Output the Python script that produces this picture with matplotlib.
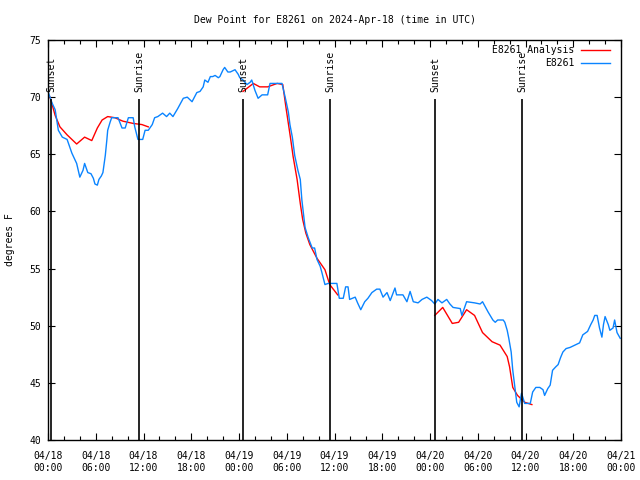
import numpy as np
import pandas as pd
import matplotlib
matplotlib.use("Agg")
import matplotlib.pyplot as plt
import matplotlib.dates as mdates

start = pd.Timestamp("2024-04-18 00:00")

# observed dew point (hours since start, degF)
obs_hours = [0.0, 0.25, 0.5, 0.9, 1.3, 1.8, 2.4, 3.0, 3.6, 4.0, 4.4, 4.6, 5.0, 5.4, 5.7, 5.9,
             6.2, 6.4, 6.7, 6.9, 7.2, 7.4, 7.5, 7.8, 8.0, 8.8, 9.3, 9.7, 10.1, 10.7, 10.9, 11.3,
             11.9, 12.2, 12.6, 13.1, 13.4, 13.8, 14.4, 14.9, 15.3, 15.7, 16.3, 17.0, 17.5, 18.1,
             18.7, 19.1, 19.5, 19.7, 20.1, 20.4, 20.7, 21.0, 21.4, 21.6, 22.0, 22.2, 22.6, 22.9,
             23.5, 23.9, 24.1, 24.5, 25.0, 25.4, 25.6, 26.0, 26.4, 26.9, 27.6, 27.9, 28.6, 29.4,
             29.8, 30.2, 30.4, 30.7, 31.0, 31.4, 31.7, 31.9, 32.3, 32.7, 33.2, 33.5, 33.8, 34.2,
             34.4, 34.8, 35.2, 35.4, 35.9, 36.3, 36.6, 37.1, 37.4, 37.7, 37.9, 38.6, 38.9, 39.3,
             39.8, 40.2, 40.5, 40.7, 41.3, 41.7, 42.1, 42.6, 43.0, 43.6, 43.8, 44.6, 45.1, 45.5,
             45.9, 46.5, 47.0, 47.6, 48.2, 48.6, 49.0, 49.5, 50.1, 50.5, 50.9, 51.8, 52.0, 52.3,
             52.6, 53.6, 54.3, 54.6, 55.3, 55.9, 56.2, 56.5, 57.2, 57.4, 57.7, 57.9, 58.2, 58.4,
             58.7, 58.9, 59.2, 59.4, 59.5, 59.9, 60.6, 60.9, 61.3, 61.8, 62.2, 62.4, 62.8, 63.1,
             63.4, 63.8, 64.1, 64.4, 64.7, 65.1, 65.6, 66.2, 66.8, 67.2, 67.6, 67.8, 68.2, 68.5,
             68.7, 69.0, 69.3, 69.6, 69.8, 70.0, 70.4, 70.6, 71.0, 71.2, 71.5, 71.9]
obs_dewpt = [70.5, 70.0, 69.5, 68.9, 67.1, 66.5, 66.3, 65.1, 64.2, 63.0, 63.6, 64.2, 63.4, 63.3, 62.9, 62.4,
             62.3, 62.8, 63.1, 63.4, 64.9, 66.3, 67.1, 67.8, 68.2, 68.2, 67.3, 67.3, 68.2, 68.2, 67.4, 66.3,
             66.3, 67.1, 67.1, 67.6, 68.2, 68.3, 68.6, 68.3, 68.6, 68.3, 69.0, 69.9, 70.0, 69.6,
             70.4, 70.5, 70.9, 71.5, 71.3, 71.8, 71.8, 71.9, 71.7, 71.8, 72.4, 72.6, 72.2, 72.2,
             72.4, 72.0, 71.7, 71.5, 71.1, 71.3, 71.5, 70.6, 69.9, 70.2, 70.2, 71.2, 71.2, 71.2,
             70.0, 68.7, 67.6, 66.5, 64.9, 63.6, 62.8, 61.0, 58.6, 57.7, 56.8, 56.8, 55.8, 55.2,
             54.7, 53.6, 53.7, 53.7, 53.7, 53.7, 52.4, 52.4, 53.4, 53.4, 52.3, 52.5, 52.0, 51.4,
             52.1, 52.4, 52.7, 52.9, 53.2, 53.2, 52.5, 52.9, 52.2, 53.3, 52.7, 52.7, 52.1, 53.0,
             52.1, 52.0, 52.3, 52.5, 52.2, 51.9, 52.3, 52.0, 52.3, 51.9, 51.6, 51.5, 50.9, 51.5,
             52.1, 52.0, 51.9, 52.1, 51.2, 50.5, 50.3, 50.5, 50.5, 50.3, 49.6, 48.9, 47.7, 46.1,
             44.4, 43.3, 42.9, 43.7, 44.1, 43.2, 43.2, 44.2, 44.6, 44.6, 44.4, 43.9, 44.5, 44.8,
             46.1, 46.4, 46.6, 47.2, 47.7, 48.0, 48.1, 48.3, 48.5, 49.2, 49.4, 49.5, 50.1, 50.5,
             50.9, 50.9, 49.8, 49.0, 50.1, 50.8, 50.1, 49.6, 49.8, 50.5, 49.4, 48.9]

# analysis segments (gaps between them)
ana_hours = [
    [0.25, 0.9, 1.5, 2.4, 3.6, 4.6, 5.5, 6.2, 6.8, 7.5, 8.4, 9.4, 10.7, 11.8, 12.6],
    [24.5, 25.8, 26.6, 27.6, 28.8, 29.5, 29.6, 29.9, 30.2, 30.5, 30.8, 31.3, 31.7, 32.0,
     32.4, 32.9, 33.8, 34.8, 35.4, 36.4],
    [48.6, 49.6, 50.8, 51.6, 52.6, 53.6, 54.6, 55.8, 56.8, 57.7, 58.0, 58.4, 59.0, 59.9, 60.8],
]
ana_dewpt = [
    [70.0, 68.4, 67.4, 66.7, 65.9, 66.5, 66.2, 67.3, 68.0, 68.3, 68.2, 67.9, 67.7, 67.6, 67.4],
    [70.5, 71.2, 70.9, 70.9, 71.2, 71.1, 70.6, 69.1, 67.7, 66.3, 64.8, 62.8, 60.7, 59.3,
     58.1, 57.1, 55.9, 54.9, 53.6, 52.7],
    [50.9, 51.6, 50.2, 50.3, 51.4, 50.9, 49.4, 48.6, 48.3, 47.3, 46.4, 44.6, 43.9, 43.3, 43.1],
]

sun_hours = [0.38, 11.43, 24.5, 35.43, 48.62, 59.55]
sun_labels = ["Sunset", "Sunrise", "Sunset", "Sunrise", "Sunset", "Sunrise"]


def to_time(hours):
    return start + pd.to_timedelta(np.asarray(hours), unit="h")


plt.rcParams["font.family"] = "DejaVu Sans Mono"
plt.rcParams["font.size"] = 7

fig = plt.figure(figsize=(6.4, 4.8), dpi=100)
ax = fig.add_axes([48 / 640, 40 / 480, 573 / 640, 400 / 480])

for h, v in zip(ana_hours, ana_dewpt):
    ax.plot(to_time(h), v, color="#ff0000", lw=1.0)
ax.plot(to_time(obs_hours), obs_dewpt, color="#0a84ff", lw=1.0)

for h, lab in zip(sun_hours, sun_labels):
    t = to_time([h])[0]
    ax.vlines(t, 40, 69.85, color="black", lw=1.2)
    ax.text(t, 70.45, lab, rotation=90, ha="center", va="bottom")

ax.set_xlim(start, start + pd.Timedelta(hours=72))
ax.set_ylim(40, 75)
ax.set_yticks(np.arange(40, 76, 5))
ax.xaxis.set_major_locator(mdates.HourLocator(byhour=[0, 6, 12, 18]))
ax.xaxis.set_minor_locator(mdates.HourLocator(byhour=range(0, 24, 2)))
ax.xaxis.set_major_formatter(mdates.DateFormatter("%m/%d\n%H:%M"))
ax.tick_params(which="major", direction="in", length=5, top=True, right=True, width=0.8, pad=5)
ax.tick_params(axis="x", which="major", pad=8)
ax.tick_params(which="minor", direction="in", length=3, top=True, right=True, width=0.8)
for s in ax.spines.values():
    s.set_linewidth(1.0)

ax.set_title("Dew Point for E8261 on 2024-Apr-18 (time in UTC)", fontsize=7, pad=12)
ax.set_ylabel("degrees F", labelpad=10)

# legend drawn gnuplot-style: text right aligned, sample to the right
leg_items = [("E8261 Analysis", "#ff0000", 0.975), ("E8261", "#0a84ff", 0.9425)]
for lab, col, yy in leg_items:
    ax.text(0.918, yy, lab, transform=ax.transAxes, ha="right", va="center")
    ax.plot([0.930, 0.981], [yy, yy], transform=ax.transAxes, color=col, lw=1.0)

fig.savefig("out.png", dpi=100)
